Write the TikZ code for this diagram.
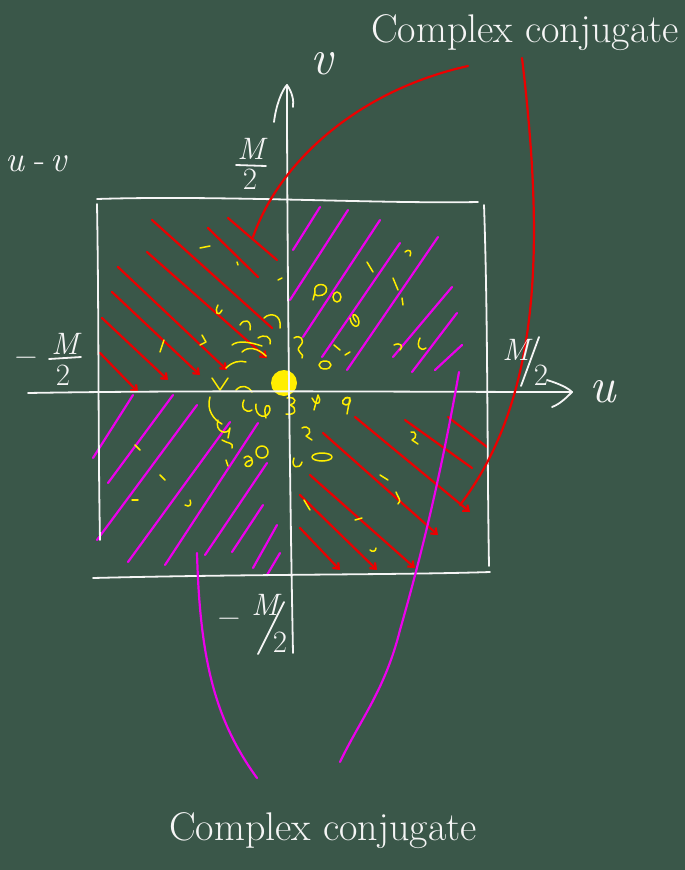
\documentclass[tikz,border=0pt]{standalone}
\usetikzlibrary{arrows.meta}
\definecolor{board}{RGB}{58,87,73}
\definecolor{chalk}{RGB}{245,245,245}
\definecolor{cred}{RGB}{236,0,0}
\definecolor{cmag}{RGB}{236,0,236}
\definecolor{cyel}{RGB}{255,238,0}
\begin{document}
\begin{tikzpicture}[x=1pt,y=-1pt,line cap=round,line join=round,
  wl/.style={draw=chalk,line width=1.8pt},
  rl/.style={draw=cred,line width=2.2pt},
  ml/.style={draw=cmag,line width=2.2pt},
  yl/.style={draw=cyel,line width=1.5pt},
  ra/.style={rl,-{Straight Barb[length=5pt,width=8pt]}},
  lab/.style={text=chalk,inner sep=0pt,font=\fontsize{40}{44}\selectfont},
  sym/.style={text=chalk,inner sep=0pt,font=\fontsize{50}{54}\selectfont\itshape},
  uvs/.style={text=chalk,inner sep=0pt,font=\fontsize{36}{40}\selectfont\itshape},
  frac/.style={text=chalk,inner sep=0pt,font=\fontsize{31}{35}\selectfont\itshape},
  fracup/.style={text=chalk,inner sep=0pt,font=\fontsize{31}{35}\selectfont}]
\fill[board] (0,0) rectangle (685,870);
\useasboundingbox (0,0) rectangle (685,870);

% ---------- red hatching, upper-left ----------
\draw[rl] (228,218) -- (277,260);
\draw[rl] (208,228) -- (258,277);
\draw[rl] (152,220) -- (272,328);
\draw[ra] (147,252) -- (267,358);
\draw[ra] (118,267) -- (227,370);
\draw[ra] (112,292) -- (200,375);
\draw[ra] (102,318) -- (168,380);
\draw[ra] (100,353) -- (138,392);

% ---------- red hatching, lower-right ----------
\draw[ra] (355,417) -- (470,512);
\draw[ra] (323,433) -- (438,535);
\draw[ra] (310,475) -- (415,568);
\draw[ra] (300,495) -- (377,570);
\draw[ra] (300,528) -- (340,570);
\draw[rl] (405,420) -- (472,468);
\draw[rl] (448,417) -- (487,447);

% ---------- magenta hatching, upper-right ----------
\draw[ml] (293,250) -- (320,207);
\draw[ml] (290,300) -- (348,210);
\draw[ml] (303,337) -- (380,220);
\draw[ml] (322,357) -- (400,243);
\draw[ml] (347,370) -- (438,237);
\draw[ml] (393,357) -- (452,287);
\draw[ml] (412,372) -- (457,313);
\draw[ml] (435,370) -- (462,345);

% ---------- magenta hatching, lower-left ----------
\draw[ml] (93,458) -- (133,395);
\draw[ml] (108,483) -- (173,395);
\draw[ml] (97,540) -- (197,405);
\draw[ml] (128,562) -- (230,422);
\draw[ml] (165,565) -- (258,423);
\draw[ml] (205,555) -- (267,463);
\draw[ml] (232,552) -- (263,505);
\draw[ml] (253,568) -- (277,525);
\draw[ml] (267,575) -- (280,553);

% ---------- yellow scribbles ----------
\fill[cyel] (284,383) circle[radius=13];
\draw[yl] (315,292) .. controls (312,282) and (330,282) .. (326,292) .. controls (322,298) and (312,296) .. (315,292) -- (313,300);
\draw[yl] (337,297) circle[x radius=4,y radius=5];
\draw[yl] (350,318) .. controls (352,330) and (362,328) .. (358,318) .. controls (354,312) and (350,314) .. (356,322);
\draw[yl] (294,338) .. controls (300,334) and (306,340) .. (300,346) .. controls (294,352) and (306,354) .. (302,358);
\draw[yl] (325,365) circle[x radius=6,y radius=4];
\draw[yl] (345,398) .. controls (352,395) and (352,405) .. (346,405) .. controls (340,405) and (342,396) .. (350,398) -- (347,414);
\draw[yl] (312,398) .. controls (318,410) and (322,400) .. (318,395) -- (314,410);
\draw[yl] (287,398) .. controls (298,396) and (296,404) .. (290,405) .. controls (298,408) and (296,416) .. (286,414);
\draw[yl] (256,404) .. controls (254,418) and (268,420) .. (270,410) .. controls (270,402) and (262,404) .. (266,418);
\draw[yl] (244,400) .. controls (240,408) and (246,414) .. (252,410);
\draw[yl] (218,420) .. controls (214,432) and (228,436) .. (230,428) -- (228,438);
\draw[yl] (262,452) circle[x radius=6,y radius=6];
\draw[yl] (244,458) .. controls (250,452) and (256,462) .. (250,466) .. controls (244,468) and (242,462) .. (252,460);
\draw[yl] (322,457) circle[x radius=10,y radius=4];
\draw[yl] (294,458) .. controls (290,468) and (300,470) .. (302,462);
\draw[yl] (302,428) .. controls (308,424) and (314,432) .. (306,436) -- (312,440);
\draw[yl] (210,397) .. controls (206,410) and (214,420) .. (222,424);
\draw[yl] (264,318) .. controls (270,312) and (282,314) .. (280,328);
\draw[yl] (240,325) .. controls (244,318) and (252,320) .. (250,330);
\draw[yl] (258,338) .. controls (264,334) and (272,336) .. (270,344);
\draw[yl] (232,345) .. controls (238,340) and (250,342) .. (262,346);
\draw[yl] (242,352) .. controls (248,346) and (258,348) .. (266,356);
\draw[yl] (218,305) .. controls (214,312) and (218,318) .. (222,310);
\draw[yl] (202,335) -- (206,342) -- (200,345);
\draw[yl] (164,340) -- (160,352);
\draw[yl] (200,248) -- (210,246);
\draw[yl] (237,262) -- (238,265);
\draw[yl] (226,368) .. controls (232,362) and (240,360) .. (246,362);
\draw[yl] (212,378) -- (220,390) -- (228,378);
\draw[yl] (236,390) .. controls (242,384) and (248,386) .. (252,392);
\draw[yl] (367,262) -- (373,272);
\draw[yl] (393,278) -- (398,290);
\draw[yl] (405,252) .. controls (410,248) and (412,252) .. (410,256);
\draw[yl] (402,298) -- (403,305);
\draw[yl] (394,345) .. controls (400,342) and (404,346) .. (400,350);
\draw[yl] (420,338) .. controls (416,346) and (420,352) .. (426,348);
\draw[yl] (334,345) -- (340,350);
\draw[yl] (345,355) -- (350,352);
\draw[yl] (411,432) .. controls (416,430) and (418,438) .. (412,440) -- (418,444);
\draw[yl] (380,475) -- (388,480);
\draw[yl] (396,492) .. controls (398,498) and (402,500) .. (398,504);
\draw[yl] (355,520) -- (362,518);
\draw[yl] (370,550) .. controls (372,552) and (376,552) .. (376,548);
\draw[yl] (304,500) -- (310,510);
\draw[yl] (135,445) -- (140,450);
\draw[yl] (160,475) -- (165,480);
\draw[yl] (132,500) -- (138,500);
\draw[yl] (185,505) .. controls (190,508) and (192,504) .. (190,500);
\draw[yl] (222,440) .. controls (228,444) and (234,442) .. (232,448);
\draw[yl] (226,460) -- (228,466);
\draw[yl] (278,280) -- (282,278);

% ---------- square ----------
\draw[wl] (97,199) .. controls (220,195) and (380,204) .. (478,202);
\draw[wl] (97,204) .. controls (99,320) and (98,440) .. (100,540);
\draw[wl] (93,578) .. controls (250,574) and (400,575) .. (490,572);
\draw[wl] (484,205) .. controls (488,320) and (487,450) .. (489,566);

% ---------- axes ----------
\coordinate (uend) at (572,392);
\coordinate (vend) at (287,85);
\draw[wl] (28,393) .. controls (200,390) and (400,392) .. (uend);
\draw[wl] (547,380) .. controls (560,384) and (568,388) .. (uend) .. controls (566,398) and (560,404) .. (552,407);
\draw[wl] (293,653) .. controls (290,500) and (287,250) .. (vend);
\draw[wl] (274,122) .. controls (276,105) and (282,90) .. (vend) .. controls (292,92) and (294,100) .. (293,107);

% ---------- connector curves ----------
\draw[rl] (468,66) .. controls (360,90) and (280,160) .. (253,237);
\draw[rl] (522,58) .. controls (545,250) and (540,400) .. (460,505);
\draw[ml] (459,372) .. controls (440,480) and (420,560) .. (400,630) .. controls (385,690) and (360,720) .. (340,762);
\draw[ml] (197,553) .. controls (200,660) and (215,720) .. (257,778);

% ---------- labels ----------
\node[lab,anchor=base west] (cctop) at (371,42) {Complex conjugate};
\node[lab,anchor=base west] (ccbot) at (169,840) {Complex conjugate};
\node[sym] (vlab) at (322,64) {v};
\node[sym] (ulab) at (603,392) {u};
\node[uvs,anchor=west] (uvlab) at (5,164) {u\;{\upshape -}\,v};
% top M/2
\node[frac] (mtM) at (251,149) {M};
\node[fracup] (mt2) at (250,179) {2};
\draw[chalk,line width=1.8pt] (236,165) -- (266,166);
% left -M/2
\node[fracup] (mlm) at (26,361) {−};
\node[frac] (mlM) at (65,344) {M};
\node[fracup] (ml2) at (63,375) {2};
\draw[chalk,line width=1.8pt] (49,359) -- (81,357);
% right M/2 (slashed)
\node[frac] (mrM) at (516,350) {M};
\node[fracup] (mr2) at (541,375) {2};
\draw[chalk,line width=1.8pt] (539,337) -- (521,386);
% bottom -M/2 (slashed)
\node[fracup] (mbm) at (229,622) {−};
\node[frac] (mbM) at (265,605) {M};
\node[fracup] (mb2) at (280,642) {2};
\draw[chalk,line width=1.8pt] (284,602) -- (258,654);
\end{tikzpicture}
\end{document}
